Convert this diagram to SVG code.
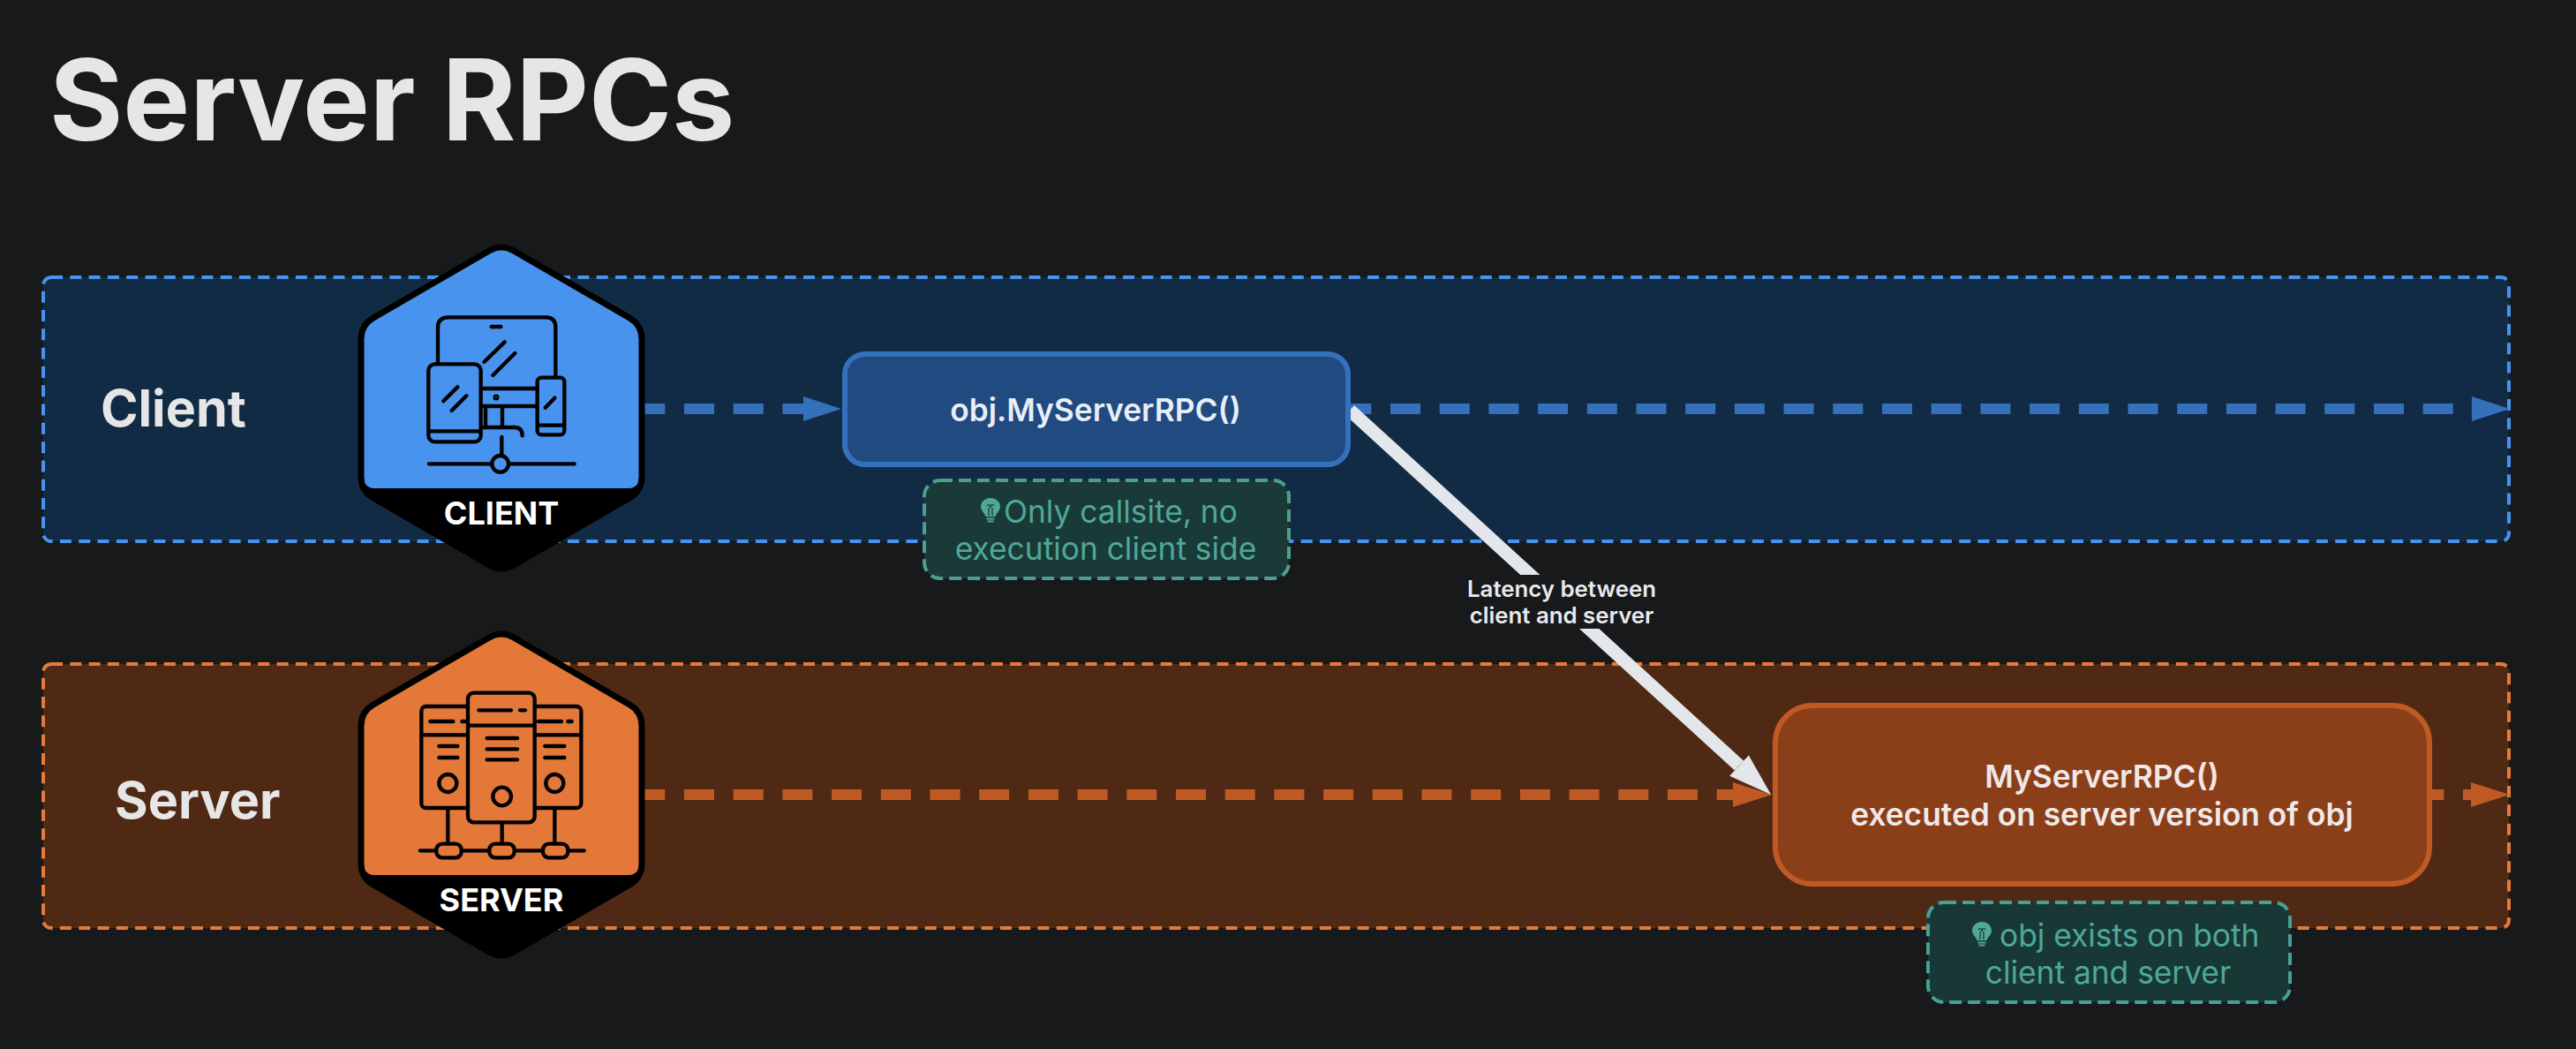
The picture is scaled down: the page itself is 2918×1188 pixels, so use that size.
<svg xmlns="http://www.w3.org/2000/svg" width="2918" height="1188" viewBox="0 0 2918 1188">
<style>
text{font-family:"Inter","Liberation Sans",sans-serif}
.title{font-size:127.300px;font-weight:700;fill:#e6e6e6}
.lane{font-size:57.500px;font-weight:700;fill:#e6e6e6}
.func{font-size:35.300px;font-weight:600;text-anchor:middle}
.note{font-size:35.300px;font-weight:400}
.latency{font-size:25.800px;font-weight:600;fill:#e8e9ec;text-anchor:middle}
.badge{font-size:36px;font-weight:700;fill:#fff;text-anchor:middle}
.ic{fill:none;stroke:#000;stroke-width:13;stroke-linecap:round;stroke-linejoin:round}
.nt{stroke-width:4;stroke-dasharray:14 7}
.flow{fill:none;stroke-width:12;stroke-dasharray:34 21.7}
</style>
<defs>
<marker id="hb" markerUnits="userSpaceOnUse" markerWidth="44" markerHeight="30" refX="0" refY="15" orient="auto"><path d="M0 1L43 15L0 29Z" fill="#3570bb"/></marker>
<marker id="ho" markerUnits="userSpaceOnUse" markerWidth="45" markerHeight="30" refX="0" refY="15" orient="auto"><path d="M0 1L44 15L0 29Z" fill="#bf5a24"/></marker>
<marker id="hw" markerUnits="userSpaceOnUse" markerWidth="50" markerHeight="34" refX="0" refY="17" orient="auto"><path d="M0 1L49 17L0 33Z" fill="#e3e6eb"/></marker>
<path id="hex" d="M554.1 284Q568 276 581.9 284L713.1 360Q727 368 727 384L727 540Q727 556 713.1 564L581.9 640Q568 648 554.1 640L422.9 564Q409 556 409 540L409 384Q409 368 422.9 360Z" stroke="#000" stroke-width="7"/>
<path id="band" d="M409 533Q411 553 424 553L712 553Q725 553 727 533L727 540Q727 556 713.1 564L581.9 640Q568 648 554.1 640L422.9 564Q409 556 409 540Z" fill="#000"/>
<g id="bulb">
<path d="M0-11C6.500-11 11-6.500 11-1C11 3.500 7 5.500 5.500 10L-5.500 10C-7 5.500-11 3.500-11-1C-11-6.500-6.500-11 0-11Z" fill="#4fa898"/>
<path d="M-2 9L-2 0M2 9L2 0M-4-2A2 2 0 0 1 0 0M4-2A2 2 0 0 0 0 0" fill="none" stroke="#1a3a38" stroke-width="1.300"/>
<path d="M-4.500 12.500L4.500 12.500M-3.500 15.500L3.500 15.500" fill="none" stroke="#4fa898" stroke-width="2"/>
</g>
</defs>
<rect width="2918" height="1188" fill="#18191b"/>
<text class="title" x="56" y="159">Server RPCs</text>

<g id="lane-client">
<rect x="49" y="314" width="2793" height="299" rx="9" fill="#122b45" stroke="#4893ee" stroke-width="4" stroke-dasharray="13 8.300"/>
<text class="lane" x="114" y="483">Client</text>
</g>
<g id="lane-server">
<rect x="49" y="752" width="2793" height="299" rx="9" fill="#4f2913" stroke="#e37b3c" stroke-width="4" stroke-dasharray="13 8.300"/>
<text class="lane" x="130" y="927">Server</text>
</g>

<g id="connectors">
<line class="flow" x1="719.300" y1="463" x2="910" y2="463" stroke="#3570bb" marker-end="url(#hb)"/>
<line class="flow" x1="1519.300" y1="463" x2="2800" y2="463" stroke="#3570bb" marker-end="url(#hb)"/>
<line class="flow" x1="719.300" y1="900" x2="1963" y2="900" stroke="#bf5a24" marker-end="url(#ho)"/>
<line class="flow" x1="2734.300" y1="900" x2="2799" y2="900" stroke="#bf5a24" marker-end="url(#ho)"/>
<line x1="1529" y1="464.500" x2="1970" y2="867" stroke="#e3e6eb" stroke-width="15" marker-end="url(#hw)"/>
<rect x="1660" y="651" width="220" height="61" fill="#18191b"/>
<text class="latency" x="1769" y="676">Latency between</text>
<text class="latency" x="1769" y="706">client and server</text>
</g>

<g id="node-client-badge">
<use href="#hex" fill="#4893ee"/>
<use href="#band"/>
<text class="badge" x="568" y="594">CLIENT</text>
<g transform="translate(380 260) scale(.33333)" class="ic">
<path d="M348 450L348 332Q348 298 385 298L715 298Q748 298 748 332L748 500"/>
<path d="M530 330L562 330M575 382L505 450M610 420L535 495"/>
<path d="M500 540L685 540M500 600L685 600M510 605L510 665M567 605L567 665"/>
<path d="M500 672L612 672Q635 674 635 700M565 705L565 765"/>
<circle cx="546" cy="570" r="4"/>
<rect x="316" y="457" width="178" height="264" rx="22" fill="#4893ee"/>
<path d="M320 685L490 685M415 535L367 583M445 565L395 615"/>
<rect x="686" y="503" width="92" height="194" rx="14" fill="#4893ee"/>
<path d="M690 665L775 665M745 572L713 605"/>
<circle cx="560" cy="796" r="28"/>
<path d="M318 796L530 796M590 796L812 796"/>
</g>
</g>

<g id="node-server-badge">
<g transform="translate(0 438)">
<use href="#hex" fill="#e37838"/>
<use href="#band"/>
<text class="badge" x="568" y="594">SERVER</text>
</g>
<g transform="translate(380 700) scale(.33333)" class="ic">
<path d="M382 650L382 765M566 695L566 765M745 650L745 765"/>
<rect x="292" y="300" width="200" height="345" rx="16"/>
<rect x="640" y="300" width="195" height="345" rx="16"/>
<path d="M295 397L450 397M322 351L400 351M430 351L440 351M352 435L415 435M352 474L415 474"/>
<path d="M680 397L832 397M690 351L768 351M790 351L803 351M712 435L778 435M712 474L778 474"/>
<circle cx="382" cy="561" r="30"/>
<circle cx="745" cy="561" r="30"/>
<rect x="450" y="254" width="227" height="440" rx="20" fill="#e37838"/>
<path d="M452 365L675 365M487 313L597 313M627 313L645 313M515 408L618 408M515 445L618 445M515 481L618 481"/>
<circle cx="566" cy="606" r="31"/>
<path d="M288 790L845 790"/>
<rect x="343" y="767" width="85" height="47" rx="20" fill="#e37838"/>
<rect x="523" y="767" width="85" height="47" rx="20" fill="#e37838"/>
<rect x="705" y="767" width="85" height="47" rx="20" fill="#e37838"/>
</g>
</g>

<g id="node-callsite">
<rect x="957" y="401" width="570" height="125" rx="23" fill="#204a80" stroke="#3570bb" stroke-width="6"/>
<text class="func" x="1241" y="477" fill="#e8eef8">obj.MyServerRPC()</text>
</g>
<g id="node-execution">
<rect x="2011" y="799" width="741" height="202" rx="42" fill="#8a3f18" stroke="#bf5a24" stroke-width="6"/>
<text class="func" x="2381" y="892" fill="#f0e8e8">MyServerRPC()</text>
<text class="func" x="2381" y="935" fill="#f0e8e8">executed on server version of obj</text>
</g>
<g id="note-callsite">
<rect x="1047" y="544" width="413" height="111" rx="18" fill="#1a3a38" stroke="#4d9e90" class="nt"/>
<use href="#bulb" x="1122" y="575"/>
<text class="note" x="1137" y="592" fill="#4fa898">Only callsite, no</text>
<text class="note" x="1252.500" y="634" fill="#4fa898" text-anchor="middle">execution client side</text>
</g>
<g id="note-exists">
<rect x="2184" y="1022" width="410" height="113" rx="18" fill="#183835" stroke="#46a096" class="nt"/>
<use href="#bulb" x="2245" y="1055"/>
<text class="note" x="2265" y="1072" fill="#4fa898">obj exists on both</text>
<text class="note" x="2388" y="1114" fill="#4fa898" text-anchor="middle">client and server</text>
</g>
</svg>
